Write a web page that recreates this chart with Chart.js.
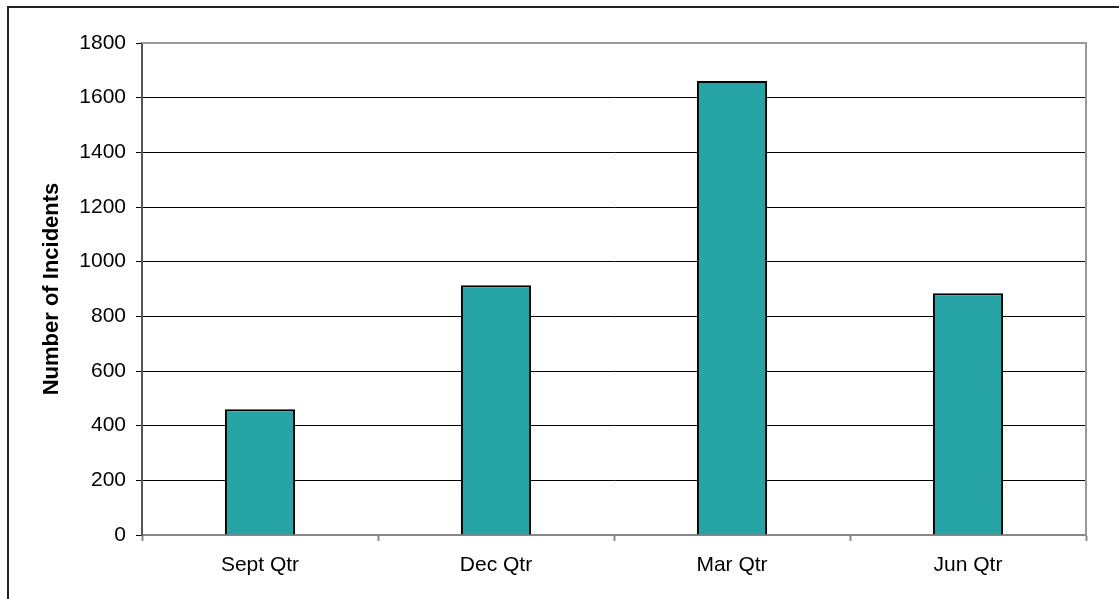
<!DOCTYPE html>
<html>
<head>
<meta charset="utf-8">
<script src="https://cdn.jsdelivr.net/npm/chart.js@4"></script>
<style>
  html, body { margin: 0; padding: 0; background: #fff; overflow: hidden; }
  #frame {
    position: absolute; left: 7px; top: 6px; width: 1200px; height: 700px;
    border-left: 2px solid #222; border-top: 2px solid #222;
  }
  #wrap { position: absolute; left: 0; top: 0; width: 1119px; height: 599px; }
</style>
</head>
<body>
<div id="frame"></div>
<div id="wrap"><canvas id="incidentsChart" width="1119" height="599"></canvas></div>
<script>
var quarters = ['Sept Qtr', 'Dec Qtr', 'Mar Qtr', 'Jun Qtr'];
var incidents = [460, 914, 1661, 884];
var yTicks = [0, 200, 400, 600, 800, 1000, 1200, 1400, 1600, 1800];

// grey frame on the top and right of the plot area
var plotFrame = {
    id: 'plotFrame',
    beforeDatasetsDraw: function(chart) {
        var a = chart.chartArea;
        var c = chart.ctx;
        c.save();
        c.strokeStyle = '#999';
        c.lineWidth = 2;
        c.beginPath();
        c.moveTo(a.left, a.top);
        c.lineTo(a.right, a.top);
        c.lineTo(a.right, a.bottom);
        c.stroke();
        c.restore();
    }
};

var ctx = document.getElementById('incidentsChart').getContext('2d');

var incidentsChart = new Chart(ctx, {
    type: 'bar',
    data: {
        labels: quarters,
        datasets: [{
            label: 'Number of Incidents',
            data: incidents,
            backgroundColor: '#26A4A6',
            borderColor: '#000',
            borderWidth: 2,
            categoryPercentage: 1.0,
            barPercentage: 0.297
        }]
    },
    options: {
        responsive: false,
        animation: false,
        layout: { padding: { top: 43, right: 33, bottom: 0, left: 0 } },
        plugins: {
            legend: { display: false },
            tooltip: { enabled: false }
        },
        scales: {
            x: {
                afterFit: function(scale) { scale.height = 64; },
                grid: {
                    offset: true,
                    drawOnChartArea: false,
                    drawTicks: true,
                    tickLength: 6,
                    tickColor: '#888',
                    tickWidth: 2
                },
                border: { color: '#888', width: 2 },
                ticks: {
                    color: '#000',
                    padding: 12,
                    font: { family: 'Liberation Sans, Arial, sans-serif', size: 21 }
                }
            },
            y: {
                min: 0,
                max: 1800,
                afterFit: function(scale) { scale.width = 142; },
                afterBuildTicks: function(scale) {
                    scale.ticks = yTicks.map(function(v) { return { value: v }; });
                },
                grid: {
                    color: function(c) { return c.tick && c.tick.value === 1800 ? '#999' : '#000'; },
                    lineWidth: 1,
                    tickLength: 6,
                    tickColor: '#000'
                },
                border: { color: '#555', width: 2 },
                ticks: {
                    color: '#000',
                    padding: 10,
                    callback: function(v) { return String(v); },
                    font: { family: 'Liberation Sans, Arial, sans-serif', size: 21 }
                },
                title: {
                    display: true,
                    text: 'Number of Incidents',
                    color: '#000',
                    padding: { top: 39, bottom: 0 },
                    font: { family: 'Liberation Sans, Arial, sans-serif', size: 22, weight: 'bold' }
                }
            }
        }
    },
    plugins: [plotFrame]
});
</script>
</body>
</html>
